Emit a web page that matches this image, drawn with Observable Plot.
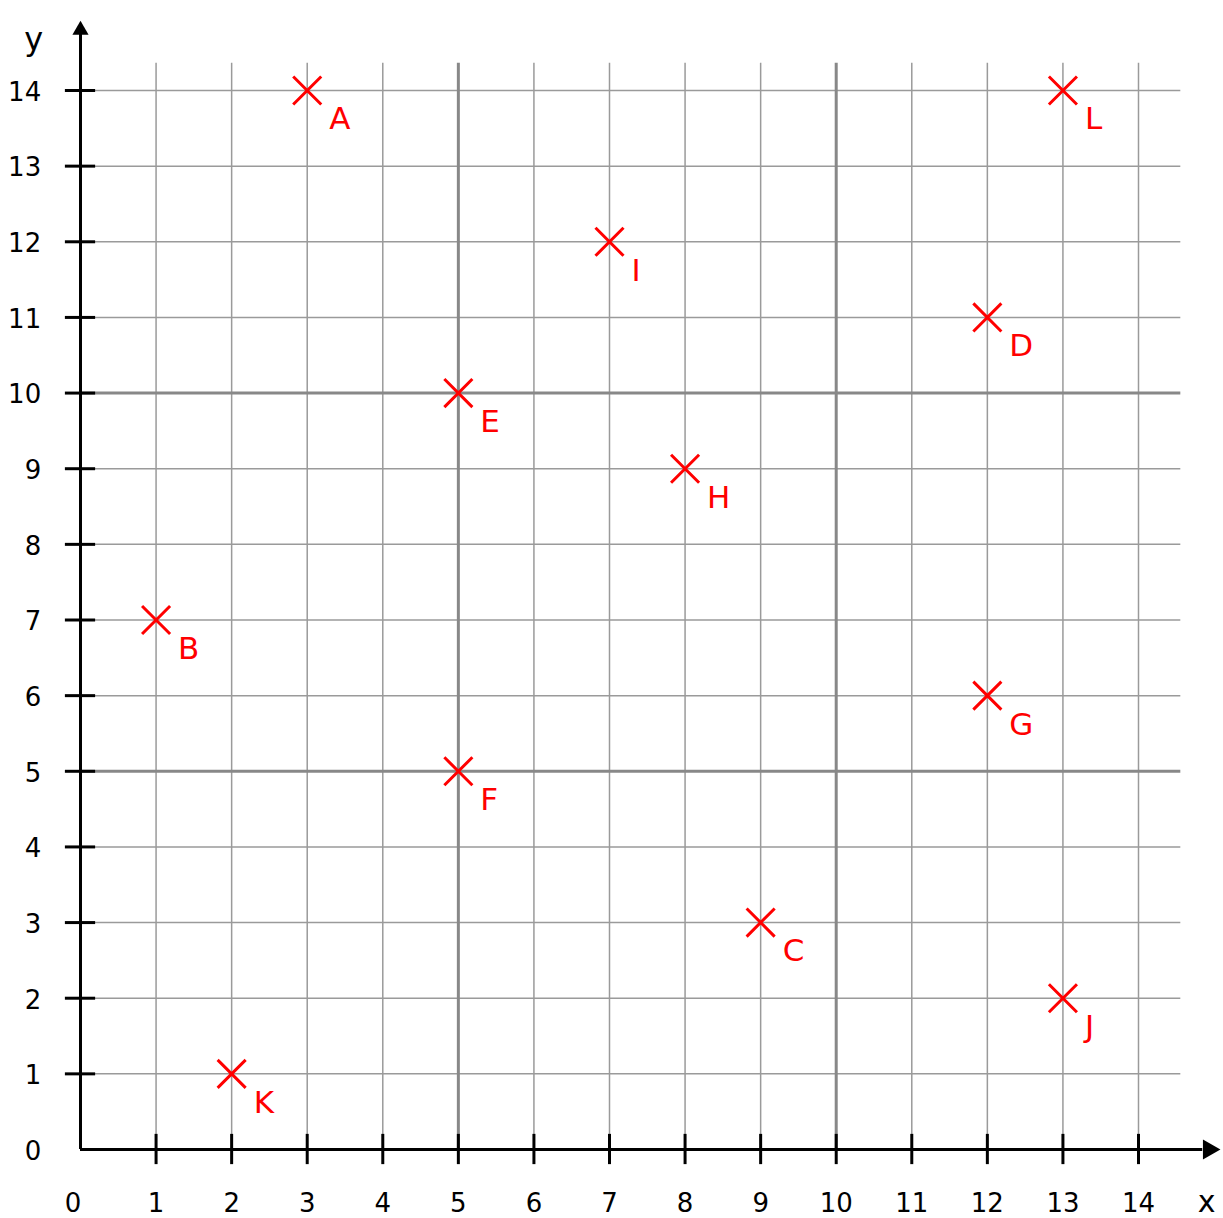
<!DOCTYPE html>
<html>
<head>
<meta charset="utf-8">
<script src="https://cdn.jsdelivr.net/npm/d3@7"></script>
<script src="https://cdn.jsdelivr.net/npm/@observablehq/plot@0.6"></script>
<style>
  html, body { margin: 0; padding: 0; background: #fff; }
</style>
</head>
<body>
<div id="chart"></div>
<script>
// Points
const pointNames = ["A", "B", "C", "D", "E", "F", "G", "H", "I", "J", "K", "L"];
const pointX = [3, 1, 9, 12, 5, 5, 12, 8, 7, 13, 2, 13];
const pointY = [14, 7, 3, 11, 10, 5, 6, 9, 12, 2, 1, 14];

// Ticks and grid
const tickValues = [0, 1, 2, 3, 4, 5, 6, 7, 8, 9, 10, 11, 12, 13, 14];
const tickLabels = ["0", "1", "2", "3", "4", "5", "6", "7", "8", "9", "10", "11", "12", "13", "14"];
const minorGrid = [1, 2, 3, 4, 6, 7, 8, 9, 11, 12, 13, 14];
const majorGrid = [5, 10];
const axisNames = ["x", "y"];

const points = pointNames.map((n, i) => ({name: n, x: pointX[i], y: pointY[i]}));
const ticks = tickValues.map((v, i) => ({v, label: tickLabels[i]}));
const innerTicks = ticks.filter(d => d.v > 0);

const gridXEnd = 14.56;
const gridYEnd = 14.36;
const font = "'DejaVu Sans', sans-serif";

const chart = Plot.plot({
  width: 1223,
  height: 1218,
  margin: 0,
  style: {background: "#fff", fontFamily: font},
  x: {type: "linear", domain: [0, 14], range: [80, 1138], axis: null},
  y: {type: "linear", domain: [0, 14], range: [1149, 90], axis: null},
  marks: [
    // minor grid
    Plot.ruleX(minorGrid, {x: d => d, y1: 0, y2: gridYEnd, stroke: "#9a9a9a", strokeWidth: 1.5}),
    Plot.ruleY(minorGrid, {y: d => d, x1: 0, x2: gridXEnd, stroke: "#9a9a9a", strokeWidth: 1.5}),
    // major grid
    Plot.ruleX(majorGrid, {x: d => d, y1: 0, y2: gridYEnd, stroke: "#888", strokeWidth: 3}),
    Plot.ruleY(majorGrid, {y: d => d, x1: 0, x2: gridXEnd, stroke: "#888", strokeWidth: 3}),
    // axes
    Plot.ruleY([0], {x1: 0, x2: 14.85, stroke: "#000", strokeWidth: 3}),
    Plot.ruleX([0], {y1: 0, y2: 14.75, stroke: "#000", strokeWidth: 3}),
    // arrowheads
    Plot.dot([{x: 14.93, y: 0}], {x: "x", y: "y", symbol: "triangle", r: 7.5, rotate: 90, fill: "#000", stroke: "none"}),
    Plot.dot([{x: 0, y: 14.8}], {x: "x", y: "y", symbol: "triangle", r: 6, rotate: 0, fill: "#000", stroke: "none"}),
    // ticks
    Plot.ruleX(innerTicks, {x: "v", y1: -0.2, y2: 0.2, stroke: "#000", strokeWidth: 3}),
    Plot.ruleY(innerTicks, {y: "v", x1: -0.2, x2: 0.2, stroke: "#000", strokeWidth: 3}),
    // tick labels
    Plot.text(ticks, {x: d => d.v === 0 ? -0.1 : d.v, y: -0.71, text: "label", fontSize: 26, fill: "#000", textAnchor: "middle"}),
    Plot.text(ticks, {y: "v", x: -0.52, text: "label", fontSize: 26, fill: "#000", textAnchor: "end", dy: 2}),
    // axis names
    Plot.text([axisNames[0]], {x: 14.9, y: -0.7, text: d => d, fontSize: 30, fill: "#000", textAnchor: "middle"}),
    Plot.text([axisNames[1]], {x: -0.62, y: 14.67, text: d => d, fontSize: 32, fill: "#000", textAnchor: "middle"}),
    // points
    Plot.dot(points, {x: "x", y: "y", symbol: "times", r: 12.8, stroke: "#ff0000", strokeWidth: 3}),
    Plot.text(points, {x: "x", y: "y", text: "name", fontSize: 31, fill: "#ff0000", textAnchor: "start", dx: 22, dy: 29})
  ]
});
document.getElementById("chart").appendChild(chart);
</script>
</body>
</html>
